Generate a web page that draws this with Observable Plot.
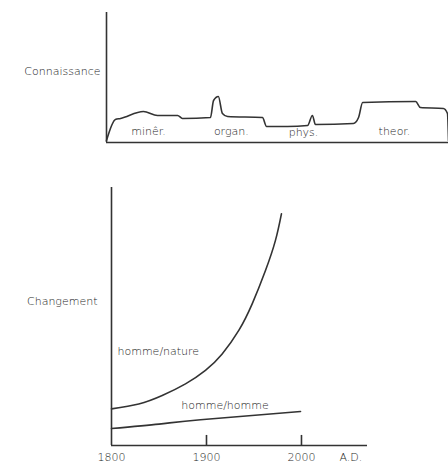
<!DOCTYPE html>
<html><head><meta charset="utf-8">
<script src="https://cdn.jsdelivr.net/npm/d3@7"></script>
<script src="https://cdn.jsdelivr.net/npm/@observablehq/plot@0.6"></script>
<style>
body{margin:0;background:#fff;}
#c svg{display:block;}
</style>
</head><body><div id="c"></div>
<script>
// Top chart: knowledge (abstract time t 0-100, level 0-100)
const knowT = [0,2.6,4.1,10.8,14.9,20.8,22.2,30.4,31.3,32.7,33.9,35.4,45.6,46.8,52.9,58.8,60.2,61.1,72.2,73.7,74.9,90.4,91.8,98.5,99.7,100];
const knowV = [1.5,17.7,18.5,23.8,20.8,20.8,18.5,19.2,32.3,35.4,22.3,20,19.2,12.3,12.3,13.1,20.8,13.8,14.6,19.2,30.8,31.5,26.9,26.2,22.3,1.5];
const domainLabels = ["minêr.","organ.","phys.","theor."];
const domainT = [12.3,36.5,57.6,84.2];
const domainV = [8.5,8.5,7.7,8.5];

// Bottom chart: change over years
const natureYears = [1800,1828.7,1853.4,1877.9,1898.9,1916.5,1934,1948.1,1962.1,1972.6,1978.9];
const natureVals = [14.2,16.1,19.4,23.9,29.1,35.5,44.6,54.9,67.8,79.5,89.8];
const hommeYears = [1800,1850,1893.7,1999];
const hommeVals = [6.6,8.3,10,13.2];
const yearTicks = [1800,1900,2000];

const ink = "#333";
const txt = "#1e1e1e";
const font = "'DejaVu Sans', sans-serif";
const fw = 200;

const know = knowT.map((t,i)=>({t, v: knowV[i]}));
const doms = domainLabels.map((l,i)=>({l, t: domainT[i], v: domainV[i]}));

const topChart = Plot.plot({
  width: 448, height: 150,
  marginLeft: 106, marginRight: 0, marginTop: 12, marginBottom: 8,
  style: {fontFamily: font, color: txt, background: "white"},
  x: {domain: [0,100], axis: null},
  y: {domain: [0,100], axis: null},
  marks: [
    Plot.ruleX([0], {y1: 0, y2: 100, stroke: ink, strokeWidth: 1.6}),
    Plot.ruleY([0], {stroke: ink, strokeWidth: 1.6}),
    Plot.line(know, {x: "t", y: "v", stroke: ink, strokeWidth: 1.6, curve: "monotone-x"}),
    Plot.text(doms, {x: "t", y: "v", text: "l", fill: txt, fontSize: 11, fontWeight: fw}),
    Plot.text(["Connaissance"], {x: 0, y: 54.6, text: d=>d, textAnchor: "end", dx: -6, fill: txt, fontSize: 11, fontWeight: fw})
  ]
});

const nature = natureYears.map((x,i)=>({x, v: natureVals[i]}));
const homme = hommeYears.map((x,i)=>({x, v: hommeVals[i]}));

const bottomChart = Plot.plot({
  width: 448, height: 284,
  marginLeft: 111, marginRight: 81, marginTop: 7, marginBottom: 19,
  style: {fontFamily: font, color: txt, background: "white"},
  x: {domain: [1800, 2069.5], axis: null},
  y: {domain: [0,100], axis: null},
  marks: [
    Plot.ruleX([1800], {y1: 0, y2: 100, stroke: ink, strokeWidth: 1.6}),
    Plot.ruleY([0], {stroke: ink, strokeWidth: 1.6}),
    Plot.ruleX(yearTicks.slice(1), {y1: 0, y2: 3.9, stroke: ink, strokeWidth: 1.6}),
    Plot.text(yearTicks, {x: d=>d, y: 0, text: d=>String(d), dy: 12, fill: txt, fontSize: 11, fontWeight: fw}),
    Plot.text(["A.D."], {x: 2052, y: 0, text: d=>d, dy: 12, fill: txt, fontSize: 11, fontWeight: fw}),
    Plot.line(nature, {x: "x", y: "v", stroke: ink, strokeWidth: 1.6, curve: "natural"}),
    Plot.line(homme, {x: "x", y: "v", stroke: ink, strokeWidth: 1.6, curve: "natural"}),
    Plot.text(["homme/nature"], {x: 1806.3, y: 36.4, text: d=>d, textAnchor: "start", fill: txt, fontSize: 11, fontWeight: fw}),
    Plot.text(["homme/homme"], {x: 1919.5, y: 15.5, text: d=>d, fill: txt, fontSize: 11, fontWeight: fw}),
    Plot.text(["Changement"], {x: 1800, y: 55.8, text: d=>d, textAnchor: "end", dx: -14, fill: txt, fontSize: 11, fontWeight: fw})
  ]
});

const c = document.getElementById("c");
c.appendChild(topChart);
const sp = document.createElement("div"); sp.style.height = "30px"; c.appendChild(sp);
c.appendChild(bottomChart);
</script>
</body></html>
